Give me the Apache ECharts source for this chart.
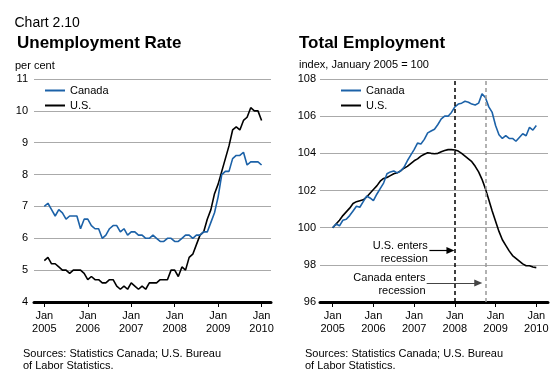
<!DOCTYPE html>
<html><head><meta charset="utf-8">
<script src="https://cdn.jsdelivr.net/npm/echarts@6/dist/echarts.min.js"></script>
<style>html,body{margin:0;padding:0;background:#fff}#c{width:560px;height:382px}</style>
</head><body><div id="c"></div>
<script>
// Monthly data, Jan 2005 .. Jan 2010 (index 0 = Jan 2005)
const canadaRate = [7.0,7.1,6.9,6.7,6.9,6.8,6.6,6.7,6.7,6.7,
  6.3,6.6,6.6,6.4,6.3,6.3,6.0,6.1,6.3,6.4,
  6.4,6.2,6.3,6.1,6.2,6.2,6.1,6.1,6.0,6.0,
  6.1,6.0,5.9,5.9,6.0,6.0,5.9,5.9,6.0,6.1,
  6.1,6.0,6.1,6.1,6.2,6.2,6.5,6.8,7.3,8.0,
  8.1,8.1,8.5,8.6,8.6,8.7,8.3,8.4,8.4,8.4,8.3];
const usRate = [5.3,5.4,5.2,5.2,5.1,5.0,5.0,4.9,5.0,5.0,
  5.0,4.9,4.7,4.8,4.7,4.7,4.6,4.6,4.7,4.7,
  4.5,4.4,4.5,4.4,4.6,4.5,4.4,4.5,4.4,4.6,
  4.6,4.6,4.7,4.7,4.7,5.0,5.0,4.8,5.1,5.0,
  5.4,5.5,5.8,6.1,6.2,6.6,6.9,7.4,7.7,8.1,
  8.5,8.9,9.4,9.5,9.4,9.7,9.8,10.1,10.0,10.0,9.7];
const canadaEmp = [100.0,100.2,100.1,100.4,100.45,100.65,100.9,101.15,101.1,101.4,
  101.7,101.6,101.45,101.8,102.1,102.4,102.9,103.0,103.05,102.95,
  103.05,103.25,103.6,103.9,104.2,104.55,104.5,104.75,105.1,105.2,
  105.3,105.55,105.85,106.0,106.0,106.2,106.5,106.65,106.7,106.8,
  106.75,106.65,106.6,106.7,107.2,107.0,106.5,106.2,105.5,105.0,
  104.8,104.95,104.8,104.8,104.65,104.85,105.05,104.95,105.4,105.25,105.5];
const usEmp = [100.0,100.2,100.4,100.65,100.85,101.05,101.3,101.4,101.45,101.5,
  101.65,101.85,102.05,102.25,102.5,102.65,102.7,102.8,102.9,102.95,
  103.05,103.2,103.3,103.45,103.6,103.7,103.85,103.95,104.03,104.0,
  103.98,104.0,104.08,104.15,104.2,104.2,104.18,104.12,104.0,103.85,
  103.7,103.55,103.3,103.0,102.6,102.1,101.5,100.9,100.35,99.8,
  99.35,99.05,98.75,98.5,98.35,98.2,98.05,97.95,97.95,97.88,97.85];
const tickMonths = [0,12,24,36,48,60];
const tickYears = ['2005','2006','2007','2008','2009','2010'];
const seriesNames = ['Canada','U.S.'];
const recessionUS = 36;      // Jan 2008
const recessionCanada = 45;  // Oct 2008

const FONT = '"Liberation Sans", Arial, Helvetica, sans-serif';
const BLUE = '#1c62a8';
const xy = arr => arr.map((v, i) => [i, v]);

function xAxisCfg(gridIndex, min, max) {
  return {
    type: 'value', gridIndex, min, max,
    axisLine: { show: true, onZero: false, lineStyle: { color: '#000', width: 3 } },
    axisTick: { show: true, customValues: tickMonths, length: 5, lineStyle: { color: '#000', width: 1 } },
    axisLabel: { customValues: tickMonths, formatter: v => 'Jan\n' + tickYears[tickMonths.indexOf(v)],
      color: '#000', fontSize: 11, lineHeight: 13, margin: 7, fontFamily: FONT },
    splitLine: { show: false }
  };
}
function yAxisCfg(gridIndex, min, max, interval, margin) {
  return {
    type: 'value', gridIndex, min, max, interval,
    axisLine: { show: false }, axisTick: { show: false },
    axisLabel: { color: '#000', fontSize: 11, margin, fontFamily: FONT },
    splitLine: { show: true, lineStyle: { color: '#aaa', width: 1 } }
  };
}
const legendCfg = (left) => ({
  data: seriesNames.map(n => ({ name: n, icon: 'rect' })),
  orient: 'vertical', left, top: 84, padding: 0,
  itemWidth: 20, itemHeight: 2, itemGap: 2, selectedMode: false,
  textStyle: { fontSize: 11, color: '#000', fontFamily: FONT, lineHeight: 13 }
});
const lineS = (name, data, color, xi, yi) => ({
  name, type: 'line', data, xAxisIndex: xi, yAxisIndex: yi, showSymbol: false, symbol: 'none',
  lineStyle: { color, width: 1.6 }, itemStyle: { color }
});

const txt = (text, x, y, size, weight, align) => ({
  type: 'text', x, y, silent: true,
  style: { text, fill: '#000', font: (weight || 'normal') + ' ' + size + 'px ' + FONT,
    textAlign: align || 'left', textVerticalAlign: 'middle', lineHeight: 12.7 }
});

const usEmpSeries = lineS('U.S.', xy(usEmp), '#000', 1, 1);
usEmpSeries.markLine = {
  silent: true, symbol: ['none', 'none'], label: { show: false },
  data: [
    { xAxis: recessionUS, lineStyle: { color: '#000', width: 1.5, type: [4, 3] } },
    { xAxis: recessionCanada, lineStyle: { color: '#999', width: 1.5, type: [4, 3] } },
    [ { coord: [28.5, 98.77], symbol: 'none' },
      { coord: [34.7, 98.77], symbol: 'triangle', symbolSize: [7, 8], lineStyle: { color: '#000', width: 1.2, type: 'solid' } } ],
    [ { coord: [27.7, 97.02], symbol: 'none' },
      { coord: [42.9, 97.02], symbol: 'triangle', symbolSize: [7, 8], lineStyle: { color: '#444', width: 1.2, type: 'solid' } } ]
  ]
};
usEmpSeries.markPoint = {
  silent: true, symbol: 'circle', symbolSize: 1, itemStyle: { color: 'transparent' },
  label: { show: true, position: 'left', distance: 0, color: '#000', fontSize: 11, lineHeight: 13,
    fontFamily: FONT, align: 'right' },
  data: [
    { coord: [28.17, 98.69], label: { formatter: 'U.S. enters\nrecession' } },
    { coord: [27.5, 96.96], label: { formatter: 'Canada enters\nrecession' } }
  ]
};

const chart = echarts.init(document.getElementById('c'), null, { renderer: 'canvas' });
chart.setOption({
  animation: false,
  backgroundColor: '#fff',
  textStyle: { fontFamily: FONT },
  grid: [
    { left: 34, top: 79, width: 237, height: 223 },
    { left: 320, top: 79, width: 228, height: 223 }
  ],
  xAxis: [ xAxisCfg(0, -2.85, 62.6), xAxisCfg(1, -3.74, 63.45) ],
  yAxis: [ yAxisCfg(0, 4, 11, 1, 6), yAxisCfg(1, 96, 108, 2, 4) ],
  legend: [ legendCfg(45), legendCfg(341) ],
  series: [
    lineS('U.S.', xy(usRate), '#000', 0, 0),
    lineS('Canada', xy(canadaRate), BLUE, 0, 0),
    usEmpSeries,
    lineS('Canada', xy(canadaEmp), BLUE, 1, 1)
  ],
  graphic: [
    txt('Chart 2.10', 14.5, 23, 14, 'normal'),
    txt('Unemployment Rate', 17, 43, 17, 'bold'),
    txt('per cent', 15, 65.5, 11, 'normal'),
    txt('Total Employment', 299, 43, 17, 'bold'),
    txt('index, January 2005 = 100', 299, 64.5, 11, 'normal'),
    txt('Sources: Statistics Canada; U.S. Bureau\nof Labor Statistics.', 23, 360, 11, 'normal'),
    txt('Sources: Statistics Canada; U.S. Bureau\nof Labor Statistics.', 305, 360, 11, 'normal')
  ]
});
</script></body></html>
